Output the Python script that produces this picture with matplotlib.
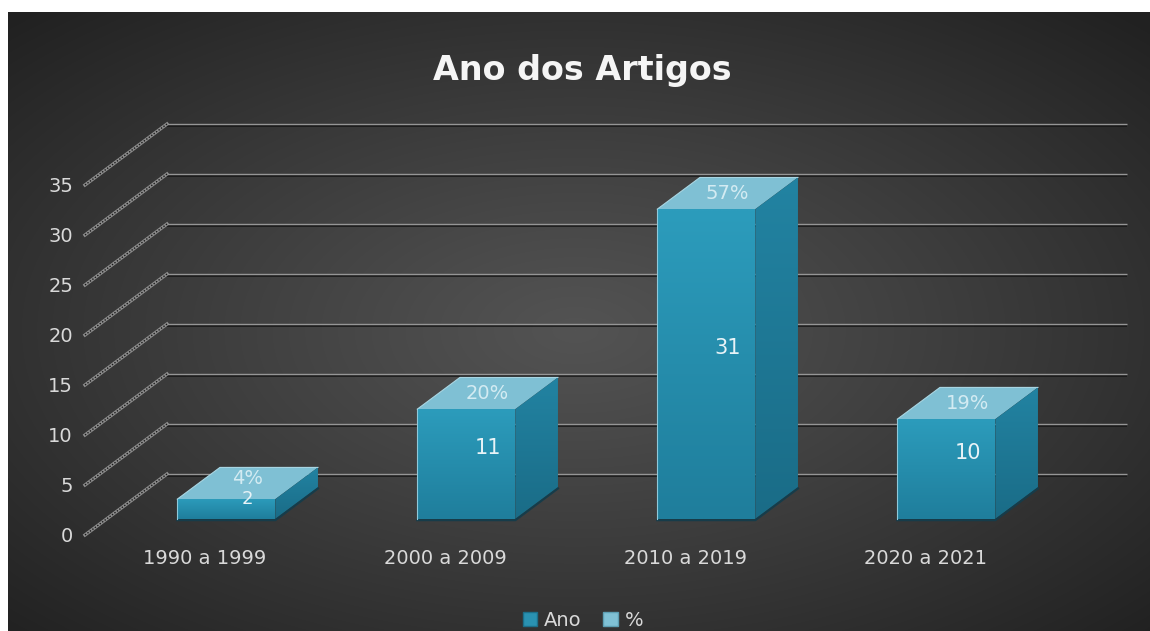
import numpy as np
import matplotlib
matplotlib.use("Agg")
import matplotlib.pyplot as plt
from matplotlib.patches import Polygon, Patch
from matplotlib.colors import to_rgb

# ---- data ----
categories = ["1990 a 1999", "2000 a 2009", "2010 a 2019", "2020 a 2021"]
counts = [2, 11, 31, 10]
percents = ["4%", "20%", "57%", "19%"]
y_ticks = [0, 5, 10, 15, 20, 25, 30, 35]
title = "Ano dos Artigos"
legend_labels = ["Ano", "%"]

# ---- figure ----
W_PX, H_PX = 1150, 631
fig = plt.figure(figsize=(W_PX / 100, H_PX / 100), dpi=100, facecolor="white")

# radial dark background
bg = fig.add_axes([8 / W_PX, 0, 1 - 8 / W_PX, 1 - 12 / H_PX], zorder=0)
h, w = 619, 1142
yy, xx = np.mgrid[0:h, 0:w]
cx, cy = 567, 318
r = np.sqrt(((xx - cx) / (w / 2)) ** 2 + ((yy - cy) / (h / 2)) ** 2) / np.sqrt(2)
c0, c1 = 0x53 / 255, 0x21 / 255
val = c0 + (c1 - c0) * np.clip(r, 0, 1) ** 1.1
bg.imshow(np.dstack([val, val, val]), extent=[0, 1, 0, 1], aspect="auto", origin="upper")
bg.axis("off")

ax = fig.add_axes([0, 0, 1, 1], zorder=1)
ax.patch.set_alpha(0)
ax.axis("off")

# coordinate system: category units (240 px), value units (10 px)
PX_CAT, PX_VAL = 240.0, 10.0
X0_PX, Y0_PX = 85.0, 535.0          # pixel of (-0.5, 0)
xlim = (-0.5 - X0_PX / PX_CAT, -0.5 + (W_PX - X0_PX) / PX_CAT)
ylim = ((Y0_PX - H_PX) / PX_VAL, Y0_PX / PX_VAL)

DX, DY = 82 / PX_CAT, 6.1            # full depth of the 3D floor
F0, F1 = 0.26, 0.78                  # bar depth range
FM = (F0 + F1) / 2
BW = 98 / PX_CAT                     # bar width
n = len(categories)

# ---- grid (back wall + diagonals) ----
for v in y_ticks:
    ax.plot([-0.5 + DX, n - 0.5 + DX], [v + DY - 0.15, v + DY - 0.15],
            color="#151515", lw=1.1, zorder=2, solid_capstyle="butt")
    ax.plot([-0.5 + DX, n - 0.5 + DX], [v + DY, v + DY],
            color="#969696", lw=1.0, zorder=2.1, solid_capstyle="butt")
    ax.plot([-0.5, -0.5 + DX], [v, v + DY], color="#8c8c8c", lw=2.4, zorder=2)
    ax.plot([-0.5, -0.5 + DX], [v, v + DY], color="#1a1a1a", lw=1.0,
            ls=(0, (1, 1.2)), zorder=2.1)
    ax.text(-0.55, v - 0.75, str(v), ha="right", va="baseline",
            fontsize=14, color="#d9d9d9", zorder=5)


def grad_fill(poly, c_top, c_bot, z):
    xs = [p[0] for p in poly.get_xy()]
    ys = [p[1] for p in poly.get_xy()]
    t = np.linspace(0, 1, 64)[:, None]
    a, b = np.array(to_rgb(c_bot)), np.array(to_rgb(c_top))
    img = (a + (b - a) * t)[:, None, :]
    im = ax.imshow(img, extent=[min(xs), max(xs), min(ys), max(ys)],
                   origin="lower", aspect="auto", zorder=z, interpolation="bilinear")
    im.set_clip_path(poly)


# ---- bars ----
ddx, ddy = (F1 - F0) * DX, (F1 - F0) * DY
for i, (v, pct) in enumerate(zip(counts, percents)):
    xc = i + F0 * DX
    xl, xr = xc - BW / 2, xc + BW / 2
    yb, yt = F0 * DY, v + F0 * DY
    front = Polygon([(xl, yb), (xr, yb), (xr, yt), (xl, yt)], closed=True,
                    facecolor="none", edgecolor="none", zorder=3)
    side = Polygon([(xr, yb), (xr + ddx, yb + ddy), (xr + ddx, yt + ddy), (xr, yt)],
                   closed=True, facecolor="none", edgecolor="none", zorder=3)
    top = Polygon([(xl, yt), (xr, yt), (xr + ddx, yt + ddy), (xl + ddx, yt + ddy)],
                  closed=True, facecolor="#7fc0d4", edgecolor="none", zorder=3)
    ax.add_patch(front)
    ax.add_patch(side)
    ax.add_patch(top)
    grad_fill(front, "#2c9cbc", "#1f7e9c", 3)
    grad_fill(side, "#2283a2", "#1a6c87", 3)
    # edge highlights / shadow
    ax.plot([xl, xl], [yb, yt], color="#8fc9da", lw=0.8, zorder=3.5)
    ax.plot([xl, xl + ddx, xr + ddx], [yt, yt + ddy, yt + ddy], color="#a9d6e3",
            lw=0.8, zorder=3.5)
    ax.plot([xl, xr, xr + ddx], [yb - 0.1, yb - 0.1, yb + ddy - 0.1],
            color="#163c4a", lw=1.6, zorder=3.4)
    # labels (small bar: nudge the two labels apart a little)
    small = v < 4
    ax.text(i + FM * DX, v + FM * DY + (0.5 if small else 0), pct,
            ha="center", va="center", fontsize=14, color="#d3ebf2", zorder=6)
    ax.text(i + FM * DX, v / 2 + FM * DY - (0.6 if small else 0), str(v),
            ha="center", va="center", fontsize=15 if not small else 13,
            color="#e8f3f7", zorder=6)
    ax.text(i, -2.9, categories[i], ha="center", va="baseline",
            fontsize=14, color="#d9d9d9", zorder=5)

ax.set_xlim(*xlim)
ax.set_ylim(*ylim)
ax.set_aspect("auto")

# ---- title & legend ----
fig.text(582 / W_PX, 1 - 80 / H_PX, title, ha="center", va="baseline",
         fontsize=24, fontweight="bold", color="#f5f5f5")
handles = [Patch(facecolor="#2a92b2", edgecolor="#1c6f8a"),
           Patch(facecolor="#80c1d5", edgecolor="#5d9fb3")]
fig.legend(handles, legend_labels, loc="center", bbox_to_anchor=(583 / W_PX, 1 - 620 / H_PX),
           ncol=2, frameon=False, fontsize=14, labelcolor="#d9d9d9",
           handlelength=0.75, handleheight=0.75, handletextpad=0.35, columnspacing=1.1)

fig.savefig("out.png", dpi=100, facecolor="white")
